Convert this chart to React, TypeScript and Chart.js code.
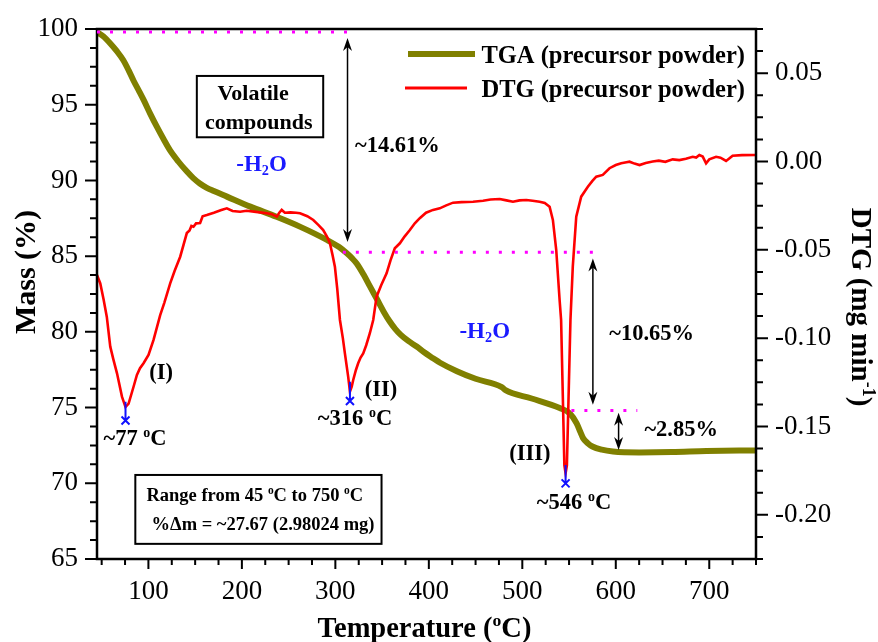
import React, { useEffect, useRef } from 'react';
import { Chart, registerables } from 'chart.js';

Chart.register(...registerables);

// ---------------- data ----------------
const tgaTemp = [45, 52, 59, 66, 73, 79, 84, 90, 95, 102, 109, 116, 123, 132, 141, 148, 155, 162, 170, 184, 209, 237, 262, 291, 304, 312, 318, 323, 330, 337, 345, 352, 358, 364, 370, 378, 387, 395, 404.5, 412, 430, 450, 478, 482, 510, 540, 551, 558, 562, 565, 570, 575, 585, 597, 625, 660, 697, 750];
const tgaMass = [99.8, 99.5, 99.06, 98.55, 97.95, 97.25, 96.6, 95.9, 95.3, 94.4, 93.55, 92.75, 92.0, 91.25, 90.6, 90.15, 89.8, 89.53, 89.3, 88.93, 88.27, 87.6, 86.95, 86.07, 85.6, 85.2, 84.85, 84.5, 83.8, 83.0, 82.1, 81.3, 80.7, 80.2, 79.8, 79.4, 79.03, 78.65, 78.26, 77.96, 77.4, 76.9, 76.35, 76.15, 75.6, 74.97, 74.6, 73.97, 73.4, 72.98, 72.65, 72.43, 72.22, 72.1, 72.04, 72.06, 72.13, 72.17];

const dtgTemp = [45, 48.5, 52, 55.5, 59.2, 62.5, 66.4, 71.7, 75.5, 78.8, 84.1, 87.7, 91, 94.8, 100.1, 105.5, 112.6, 117, 123.3, 128, 134, 141.1, 144, 146, 148.2, 151, 155.3, 158, 162.5, 170, 178, 183.9, 190, 198.1, 205, 215, 226.6, 232, 237.3, 240, 242.6, 246, 252, 258, 262.2, 270, 276.4, 282, 287, 291, 294.2, 297, 299.5, 302, 304.9, 308, 310.2, 313.7, 315.6, 317.5, 319.1, 322, 324.4, 327, 329.8, 333, 336.9, 340.5, 344.1, 349, 354.8, 359, 363.6, 369, 374, 379.7, 385, 390.3, 397, 404.5, 411.7, 418, 425.9, 435, 447.3, 458, 466, 475.8, 483, 490, 497, 504.3, 511, 518.5, 524, 529.2, 532.7, 536.3, 539.9, 541.5, 545, 546.3, 547.7, 551.5, 554, 557.7, 563, 570.1, 575, 579.1, 586.1, 593.3, 600, 605.8, 610, 614.7, 620, 625.4, 632, 639.5, 646, 653, 660.9, 668, 675, 682.3, 686, 689.4, 693, 696.6, 700, 707.3, 712, 718, 721, 725, 735, 750];
const dtgValue = [-0.0643, -0.069, -0.078, -0.088, -0.1048, -0.112, -0.1199, -0.1331, -0.139, -0.137, -0.1275, -0.1208, -0.117, -0.1142, -0.1095, -0.101, -0.087, -0.0800, -0.069, -0.062, -0.0539, -0.0405, -0.039, -0.0365, -0.0369, -0.035, -0.0348, -0.031, -0.0303, -0.029, -0.0275, -0.0265, -0.028, -0.0284, -0.0279, -0.0285, -0.0293, -0.0298, -0.0312, -0.029, -0.0274, -0.029, -0.0288, -0.029, -0.0293, -0.031, -0.0331, -0.036, -0.0388, -0.0425, -0.0463, -0.053, -0.0595, -0.072, -0.0897, -0.1, -0.1086, -0.1218, -0.1303, -0.1275, -0.1237, -0.118, -0.1142, -0.111, -0.1086, -0.104, -0.0972, -0.0897, -0.0765, -0.07, -0.0633, -0.056, -0.0491, -0.0463, -0.0425, -0.0388, -0.035, -0.0321, -0.029, -0.0274, -0.0265, -0.025, -0.0233, -0.023, -0.0228, -0.0222, -0.0215, -0.0212, -0.022, -0.0228, -0.022, -0.0218, -0.0222, -0.0228, -0.0235, -0.0256, -0.0331, -0.0501, -0.0784, -0.0897, -0.172, -0.1765, -0.172, -0.0897, -0.0595, -0.0312, -0.0199, -0.0143, -0.011, -0.0086, -0.0076, -0.0038, -0.002, -0.001, -0.0006, -0.0001, -0.0012, -0.002, -0.0008, 0, 0.0005, -0.0002, 0.0012, 0.0008, 0.0016, 0.0027, 0.0022, 0.0037, 0.0028, -0.001, 0.0012, 0.0027, 0.0022, 0.0003, 0.0015, 0.0033, 0.0036, 0.0037];

const xTicks = [100, 200, 300, 400, 500, 600, 700];
const massTicks = [65, 70, 75, 80, 85, 90, 95, 100];
const dtgTicks = [-0.2, -0.15, -0.1, -0.05, 0, 0.05];

// DTG peaks (temperature, top of marker line, marker)
const peakTemps = [75.5, 315.6, 546.3];
const peakLineTop = [-0.136, -0.1246, -0.1718];
const peakMarker = [-0.1466, -0.1356, -0.1822];

// dotted mass levels and step arrows
const levelMass = [99.8, 85.26, 74.8];
const levelFrom = [45, 308, 552.5];
const levelTo = [321, 586, 623];
const arrowTemp = [313, 575.5, 603];
const arrowTop = [99.4, 84.84, 74.65];
const arrowBottom = [85.94, 75.18, 72.2];
const stepLabels = ['~14.61%', '~10.65%', '~2.85%'];

const serif = "'Liberation Serif', 'Times New Roman', serif";
const fnt = (size: number, bold = true) => `${bold ? 'bold ' : ''}${size}px ${serif}`;

type Seg = { t: string; s?: 'sup' | 'sub' };

function segWidth(ctx: CanvasRenderingContext2D, segs: Seg[], size: number, bold: boolean) {
  let w = 0;
  for (const sg of segs) {
    ctx.font = fnt(sg.s ? size * 0.62 : size, bold);
    w += ctx.measureText(sg.t).width;
  }
  return w;
}

function drawRich(ctx: CanvasRenderingContext2D, segs: Seg[], x: number, y: number, size: number, color: string, align: 'left' | 'center' | 'right' = 'center', bold = true) {
  const w = segWidth(ctx, segs, size, bold);
  let cx = align === 'center' ? x - w / 2 : align === 'right' ? x - w : x;
  ctx.fillStyle = color;
  ctx.textBaseline = 'alphabetic';
  ctx.textAlign = 'left';
  for (const sg of segs) {
    const sz = sg.s ? size * 0.62 : size;
    ctx.font = fnt(sz, bold);
    const dy = sg.s === 'sup' ? -size * 0.38 : sg.s === 'sub' ? size * 0.2 : 0;
    ctx.fillText(sg.t, cx, y + dy);
    cx += ctx.measureText(sg.t).width;
  }
}

function arrowHead(ctx: CanvasRenderingContext2D, x: number, y: number, dir: number) {
  // dir = -1 tip points up, +1 tip points down
  const L = 13, W = 4.5, N = 9;
  ctx.beginPath();
  ctx.moveTo(x, y);
  ctx.lineTo(x - W, y - dir * L);
  ctx.lineTo(x, y - dir * N);
  ctx.lineTo(x + W, y - dir * L);
  ctx.closePath();
  ctx.fill();
}

const deco = {
  id: 'deco',
  afterDraw(chart: any) {
    const ctx: CanvasRenderingContext2D = chart.ctx;
    const { left, right, top, bottom } = chart.chartArea;
    const xs = chart.scales.x, ys = chart.scales.y, y2 = chart.scales.y2;
    const X = (v: number) => xs.getPixelForValue(v);
    const Y = (v: number) => ys.getPixelForValue(v);
    const Y2 = (v: number) => y2.getPixelForValue(v);
    ctx.save();

    // frame
    ctx.strokeStyle = '#000';
    ctx.lineWidth = 2.5;
    ctx.strokeRect(left, top, right - left, bottom - top);

    // ticks
    ctx.lineWidth = 2;
    ctx.beginPath();
    for (let v = 50; v <= 750; v += 25) {
      const len = v % 100 === 0 ? 10 : 6;
      const px = X(v);
      ctx.moveTo(px, bottom); ctx.lineTo(px, bottom + len);
    }
    for (let k = 0; k <= 28; k++) {
      const v = 65 + k * 1.25;
      const len = k % 4 === 0 ? 12 : 7;
      const py = Y(v);
      ctx.moveTo(left, py); ctx.lineTo(left - len, py);
    }
    for (let k = -18; k <= 6; k++) {
      const v = k * 0.0125;
      const len = k % 4 === 0 ? 12 : 7;
      const py = Y2(v);
      ctx.moveTo(right, py); ctx.lineTo(right + len, py);
    }
    ctx.stroke();

    // axis titles
    drawRich(ctx, [{ t: 'Temperature (' }, { t: 'o', s: 'sup' }, { t: 'C)' }], (left + right) / 2 - 2, 637, 28.5, '#000');
    ctx.save();
    ctx.translate(35, 272);
    ctx.rotate(-Math.PI / 2);
    drawRich(ctx, [{ t: 'Mass (%)' }], 0, 0, 30, '#000');
    ctx.restore();
    ctx.save();
    ctx.translate(852, 307);
    ctx.rotate(Math.PI / 2);
    drawRich(ctx, [{ t: 'DTG (mg min' }, { t: '-1', s: 'sup' }, { t: ')' }], 0, 0, 29, '#000');
    ctx.restore();

    // dotted levels
    ctx.strokeStyle = '#ff00ff';
    ctx.lineWidth = 3;
    ctx.setLineDash([3, 10]);
    for (let i = 0; i < levelMass.length; i++) {
      ctx.beginPath();
      ctx.moveTo(X(levelFrom[i]), Y(levelMass[i]));
      ctx.lineTo(X(levelTo[i]), Y(levelMass[i]));
      ctx.stroke();
    }
    ctx.setLineDash([]);

    // double arrows
    ctx.strokeStyle = '#000';
    ctx.fillStyle = '#000';
    ctx.lineWidth = 1.5;
    for (let i = 0; i < arrowTemp.length; i++) {
      const ax = X(arrowTemp[i]);
      const t = Y(arrowTop[i]), b = Y(arrowBottom[i]);
      ctx.beginPath();
      ctx.moveTo(ax, t + 8); ctx.lineTo(ax, b - 8);
      ctx.stroke();
      arrowHead(ctx, ax, t, -1);
      arrowHead(ctx, ax, b, 1);
    }

    // peak markers
    ctx.strokeStyle = '#1010ff';
    ctx.lineWidth = 2;
    for (let i = 0; i < peakTemps.length; i++) {
      const px = X(peakTemps[i]);
      const py = Y2(peakMarker[i]);
      ctx.beginPath();
      ctx.moveTo(px, Y2(peakLineTop[i])); ctx.lineTo(px, py);
      ctx.moveTo(px - 4, py - 4); ctx.lineTo(px + 4, py + 4);
      ctx.moveTo(px + 4, py - 4); ctx.lineTo(px - 4, py + 4);
      ctx.stroke();
    }

    // boxes
    ctx.strokeStyle = '#000';
    ctx.lineWidth = 2;
    ctx.strokeRect(X(151.8), Y(96.9), X(287) - X(151.8), Y(92.85) - Y(96.9));
    ctx.strokeRect(X(86), Y(70.55), X(349.4) - X(86), Y(66.0) - Y(70.55));

    // annotation texts (center in data coordinates, size)
    const C = (T: number, m: number, size: number) => [X(T), Y(m) + size * 0.33] as const;
    const A = 22.5;
    const texts: { segs: Seg[]; T: number; m: number; size: number; color?: string; align?: 'left' | 'center' }[] = [
      { segs: [{ t: 'Volatile' }], T: 212, m: 95.8, size: 22 },
      { segs: [{ t: 'compounds' }], T: 218, m: 93.9, size: 22 },
      { segs: [{ t: '-H' }, { t: '2', s: 'sub' }, { t: 'O' }], T: 221, m: 91.15, size: 23, color: '#1a1aff' },
      { segs: [{ t: '-H' }, { t: '2', s: 'sub' }, { t: 'O' }], T: 459.8, m: 80.12, size: 23, color: '#1a1aff' },
      { segs: [{ t: stepLabels[0] }], T: 321, m: 92.34, size: A, align: 'left' },
      { segs: [{ t: stepLabels[1] }], T: 593, m: 79.93, size: A, align: 'left' },
      { segs: [{ t: stepLabels[2] }], T: 630.6, m: 73.6, size: A, align: 'left' },
      { segs: [{ t: '(I)' }], T: 113.5, m: 77.37, size: A },
      { segs: [{ t: '(II)' }], T: 348.7, m: 76.23, size: A },
      { segs: [{ t: '(III)' }], T: 508, m: 72.0, size: A },
      { segs: [{ t: '~77 ' }, { t: 'o', s: 'sup' }, { t: 'C' }], T: 85.6, m: 73.0, size: A },
      { segs: [{ t: '~316 ' }, { t: 'o', s: 'sup' }, { t: 'C' }], T: 321, m: 74.31, size: A },
      { segs: [{ t: '~546 ' }, { t: 'o', s: 'sup' }, { t: 'C' }], T: 555.3, m: 68.76, size: A },
      { segs: [{ t: 'Range from 45 ' }, { t: 'o', s: 'sup' }, { t: 'C to 750 ' }, { t: 'o', s: 'sup' }, { t: 'C' }], T: 213.8, m: 69.23, size: 18.5 },
      { segs: [{ t: '%\u0394m = ~27.67 (2.98024 mg)' }], T: 222.6, m: 67.3, size: 18.5 },
    ];
    for (const tx of texts) {
      const [px, py] = C(tx.T, tx.m, tx.size);
      drawRich(ctx, tx.segs, px, py, tx.size, tx.color || '#000', tx.align || 'center');
    }

    // legend
    ctx.lineWidth = 6;
    ctx.strokeStyle = '#808000';
    ctx.beginPath(); ctx.moveTo(408, 54); ctx.lineTo(475, 54); ctx.stroke();
    ctx.lineWidth = 3;
    ctx.strokeStyle = '#ff0000';
    ctx.beginPath(); ctx.moveTo(405, 88); ctx.lineTo(467, 88); ctx.stroke();
    drawRich(ctx, [{ t: 'TGA (precursor powder)' }], 745, 63, 24.5, '#000', 'right');
    drawRich(ctx, [{ t: 'DTG (precursor powder)' }], 745, 97, 24.5, '#000', 'right');

    ctx.restore();
  },
};

export default function App() {
  const ref = useRef<HTMLCanvasElement | null>(null);
  useEffect(() => {
    if (!ref.current) return;
    const tickFont = { family: serif, size: 27 };
    const vFit = (w: number) => (s: any) => { s.width = w; s.paddingTop = 0; s.paddingBottom = 0; };
    const chart = new Chart(ref.current, {
      type: 'scatter',
      data: {
        datasets: [
          {
            label: 'DTG (precursor powder)',
            data: dtgTemp.map((t, i) => ({ x: t, y: dtgValue[i] })),
            yAxisID: 'y2',
            showLine: true,
            borderColor: '#ff0000',
            borderWidth: 2.6,
            pointRadius: 0,
            tension: 0,
          },
          {
            label: 'TGA (precursor powder)',
            data: tgaTemp.map((t, i) => ({ x: t, y: tgaMass[i] })),
            yAxisID: 'y',
            showLine: true,
            borderColor: '#808000',
            borderWidth: 6,
            pointRadius: 0,
            cubicInterpolationMode: 'monotone',
          },
        ],
      },
      options: {
        animation: false,
        responsive: false,
        maintainAspectRatio: false,
        events: [],
        layout: { padding: { top: 29, left: 0, right: 0, bottom: 0 } },
        plugins: { legend: { display: false }, tooltip: { enabled: false } },
        scales: {
          x: {
            type: 'linear',
            position: 'bottom',
            min: 45,
            max: 750,
            grid: { display: false, drawTicks: false, tickLength: 0 },
            border: { display: false },
            afterFit: (s: any) => { s.height = 83; s.paddingLeft = 0; s.paddingRight = 0; },
            afterBuildTicks: (s: any) => { s.ticks = xTicks.map((v) => ({ value: v })); },
            ticks: { font: tickFont, color: '#000', padding: 17, maxRotation: 0, autoSkip: false },
          },
          y: {
            type: 'linear',
            position: 'left',
            min: 65,
            max: 100,
            grid: { display: false, drawTicks: false, tickLength: 0 },
            border: { display: false },
            afterFit: vFit(97),
            afterBuildTicks: (s: any) => { s.ticks = massTicks.map((v) => ({ value: v })); },
            ticks: { font: tickFont, color: '#000', padding: 19, autoSkip: false },
          },
          y2: {
            type: 'linear',
            position: 'right',
            min: -0.225,
            max: 0.075,
            grid: { display: false, drawTicks: false, tickLength: 0 },
            border: { display: false },
            afterFit: vFit(122),
            afterBuildTicks: (s: any) => { s.ticks = dtgTicks.map((v) => ({ value: v })); },
            ticks: { font: tickFont, color: '#000', padding: 19, autoSkip: false, callback: (v: any) => Number(v).toFixed(2) },
          },
        },
      } as any,
      plugins: [deco],
    });
    return () => chart.destroy();
  }, []);
  return (
    <div style={{ position: 'absolute', left: 0, top: 0, width: 878, height: 642, background: '#fff' }}>
      <canvas ref={ref} width={878} height={642} style={{ display: 'block' }} />
    </div>
  );
}
